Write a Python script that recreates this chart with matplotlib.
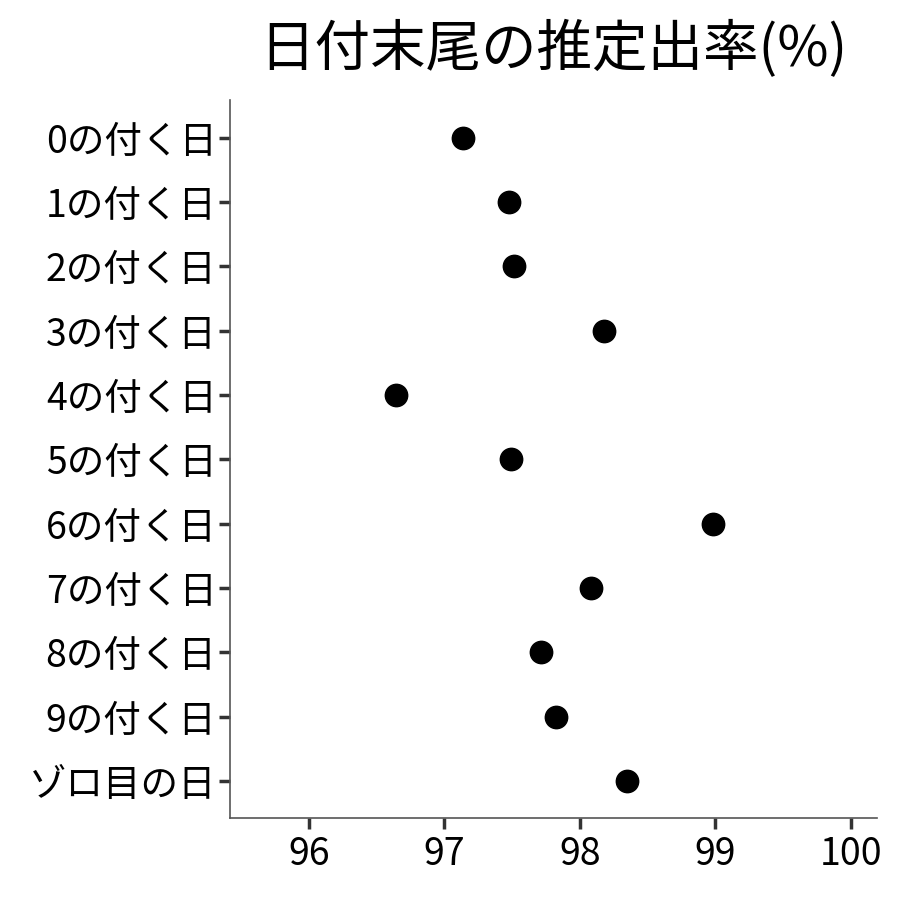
import matplotlib
matplotlib.use("Agg")
import matplotlib.pyplot as plt

plt.rcParams['font.family'] = ['Noto Sans CJK JP', 'DejaVu Sans']

labels = ["0の付く日", "1の付く日", "2の付く日", "3の付く日", "4の付く日",
          "5の付く日", "6の付く日", "7の付く日", "8の付く日", "9の付く日", "ゾロ目の日"]
rates = [97.14, 97.48, 97.51, 98.18, 96.64, 97.49, 98.98, 98.08, 97.71, 97.82, 98.35]

fig = plt.figure(figsize=(9, 9), dpi=100)
ax = fig.add_axes([0.256, 0.091, 0.718, 0.798])
ax.scatter(rates, range(len(labels)), s=260, color="black", zorder=3)

ax.set_yticks(range(len(labels)))
ax.set_yticklabels(labels)
ax.set_ylim(len(labels) - 0.42, -0.59)
ax.set_xlim(95.42, 100.19)
ax.set_xticks([96, 97, 98, 99, 100])

for s in ["top", "right"]:
    ax.spines[s].set_visible(False)
for s in ["left", "bottom"]:
    ax.spines[s].set_color("#555555")
    ax.spines[s].set_linewidth(1.2)
ax.tick_params(axis="both", labelsize=27, colors="#333333", length=8, width=2.5,
               labelcolor="black")
ax.tick_params(axis="y", pad=2)
ax.tick_params(axis="x", pad=4)

fig.suptitle("日付末尾の推定出率(%)", fontsize=40, x=0.615, y=0.977)

fig.savefig("out.png", dpi=100, facecolor="white")
